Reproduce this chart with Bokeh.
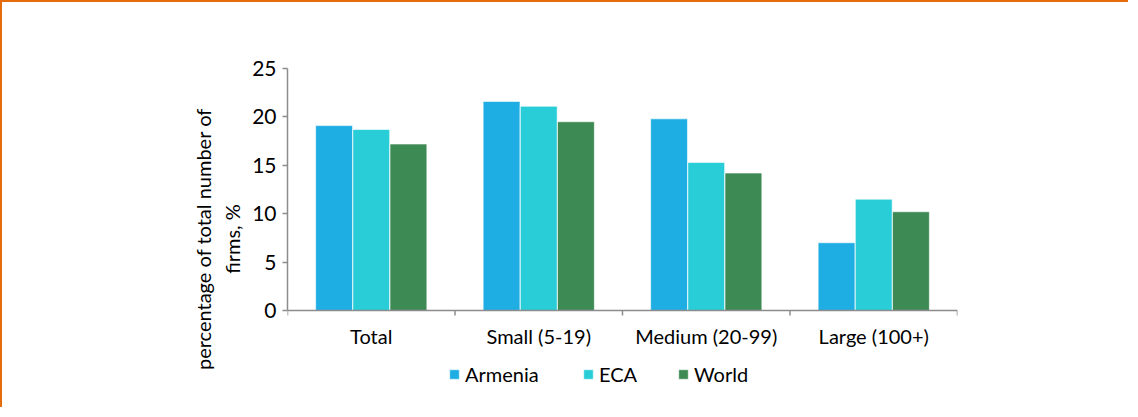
import math
from bokeh.plotting import figure
from bokeh.models import Range1d, FixedTicker, Legend, LegendItem, ColumnDataSource
from bokeh.core.properties import value
from bokeh.transform import dodge
from bokeh.embed import file_html
from bokeh.resources import INLINE

categories = ["Total", "Small (5-19)", "Medium (20-99)", "Large (100+)"]
armenia = [19.1, 21.6, 19.8, 7.0]
eca = [18.7, 21.1, 15.3, 11.5]
world = [17.2, 19.5, 14.2, 10.2]
series = ["Armenia", "ECA", "World"]
colors = ["#1FAEE3", "#29CDD8", "#3E8A55"]
y_ticks = [0, 5, 10, 15, 20, 25]
y_max = 25

FONT = "Lato"
ORANGE = "#E46C0A"
GREY = "#8C8C8C"

# layout in pixels (canvas)
W, H = 1128, 407
LEFT, TOP, PLOT_H, PLOT_W = 285, 66, 242, 670
BELOW = H - TOP - PLOT_H  # space under the zero line kept inside the frame

n = len(categories)
xpos = [i + 0.5 for i in range(n)]
bounds = list(range(n + 1))
src = ColumnDataSource(dict(x=xpos, Armenia=armenia, ECA=eca, World=world))

p = figure(width=W, height=H,
           x_range=Range1d(0, n), y_range=Range1d(-y_max * BELOW / PLOT_H, y_max),
           output_backend="svg", toolbar_location=None, x_axis_type=None,
           min_border_left=LEFT, min_border_top=TOP, min_border_bottom=0,
           min_border_right=W - LEFT - PLOT_W)
p.styles = {"border-top": f"2px solid {ORANGE}", "border-left": f"2px solid {ORANGE}"}
p.outline_line_color = None
p.grid.grid_line_color = None
p.background_fill_color = "white"
p.border_fill_color = "white"

offsets = [-0.222, 0.0, 0.222]
renderers = []
for s, c, o in zip(series, colors, offsets):
    r = p.vbar(x=dodge("x", o, range=p.x_range), top=s, width=0.22, bottom=0,
               source=src, fill_color=c, line_color="white", line_alpha=0.6, line_width=1)
    renderers.append(r)

# y axis
yax = p.yaxis[0]
yax.bounds = (0, y_max)
yax.ticker = FixedTicker(ticks=y_ticks)
yax.axis_line_color = GREY
yax.axis_line_width = 1.5
yax.major_tick_line_color = GREY
yax.major_tick_line_width = 1.5
yax.major_tick_out = 5
yax.major_tick_in = 0
yax.minor_tick_line_color = None
yax.major_label_text_font = FONT
yax.major_label_text_font_size = "21px"
yax.major_label_text_color = "#000000"
yax.major_label_standoff = 6
yax.axis_label = "percentage of total number of\nfirms, %"
yax.axis_label_text_font = FONT
yax.axis_label_text_font_size = "20px"
yax.axis_label_text_font_style = "normal"
yax.axis_label_text_color = "#000000"
yax.axis_label_standoff = 5

# category axis drawn at zero line
p.segment(x0=[0], y0=[0], x1=[n], y1=[0], line_color=GREY, line_width=1.5)
p.ray(x=bounds, y=[0] * len(bounds), length=5, length_units="screen",
      angle=-math.pi / 2, line_color=GREY, line_width=1.5)
p.text(x=xpos, y=[0] * n, text=categories, y_offset=25, text_align="center",
       text_baseline="middle", text_font=value(FONT), text_font_size="20px",
       text_color="#000000")

# legend: one entry per series, placed like the original
leg_x = [161, 295, 390]
for s, r, lx in zip(series, renderers, leg_x):
    lg = Legend(items=[LegendItem(label=s, renderers=[r])], location=(lx, 23),
                label_text_font=FONT, label_text_font_size="20px",
                label_text_color="#000000", glyph_width=12, glyph_height=12,
                label_standoff=5, border_line_color=None,
                background_fill_alpha=0, margin=0, padding=4)
    p.add_layout(lg, "center")

open("out.html", "w").write(file_html(p, INLINE))
